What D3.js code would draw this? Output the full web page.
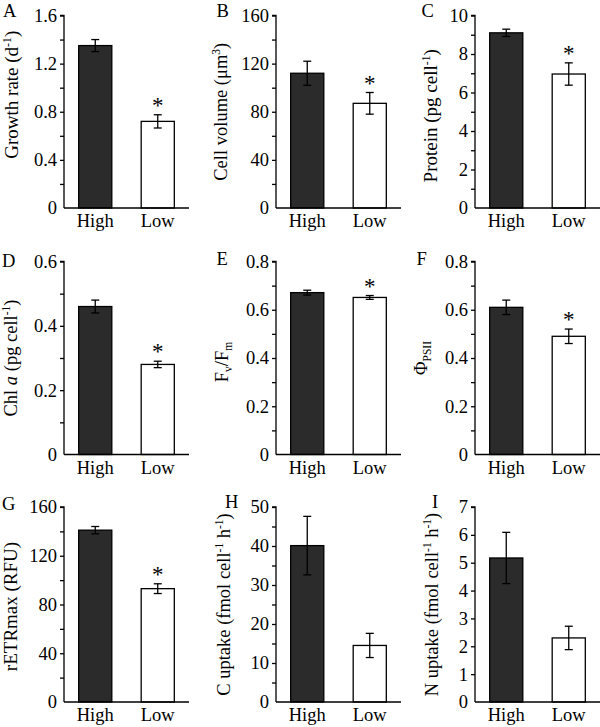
<!DOCTYPE html>
<html><head><meta charset="utf-8">
<script src="https://cdn.jsdelivr.net/npm/d3@7"></script>
<style>body{margin:0;background:#fff}svg{display:block}text{font-family:"Liberation Serif","Times New Roman",serif;fill:#000}</style>
</head><body><svg id="c" width="600" height="727"></svg>
<script>
const categories = ["High", "Low"];
const panelLetters = ["A","B","C","D","E","F","G","H","I"];
const growthRate = [1.35, 0.72], growthRateErr = [0.05, 0.055];
const cellVolume = [112, 87], cellVolumeErr = [10, 9];
const protein = [9.1, 6.96], proteinErr = [0.19, 0.58];
const chlA = [0.46, 0.28], chlAErr = [0.02, 0.01];
const fvfm = [0.671, 0.651], fvfmErr = [0.01, 0.008];
const phiPSII = [0.61, 0.49], phiPSIIErr = [0.03, 0.03];
const rETRmax = [141, 93], rETRmaxErr = [3, 4];
const cUptake = [40.1, 14.5], cUptakeErr = [7.5, 3.1];
const nUptake = [5.17, 2.3], nUptakeErr = [0.92, 0.42];
const significant = [true, true, true, true, true, true, true, false, false];
const tickA = ["0","0.4","0.8","1.2","1.6"];
const tickB = ["0","40","80","120","160"];
const tickC = ["0","2","4","6","8","10"];
const tickD = ["0","0.2","0.4","0.6"];
const tickE = ["0","0.2","0.4","0.6","0.8"];
const tickF = ["0","0.2","0.4","0.6","0.8"];
const tickG = ["0","40","80","120","160"];
const tickH = ["0","10","20","30","40","50"];
const tickI = ["0","1","2","3","4","5","6","7"];
const minorStep = [0.2, 20, 1, 0.1, 0.1, 0.1, 20, 5, null];
// y-axis labels as text segments
const yLabels = [
  [["Growth rate (d"],["-1","sup"],[")"]],
  [["Cell volume (\u03bcm"],["3","sup"],[")"]],
  [["Protein (pg cell"],["-1","sup"],[")"]],
  [["Chl "],["a","it"],[" (pg cell"],["-1","sup"],[")"]],
  [["F"],["v","sub"],["/F"],["m","sub"]],
  [["\u03a6"],["PSII","sub"]],
  [["rETRmax (RFU)"]],
  [["C uptake (fmol cell"],["-1","sup"],[" h"],["-1","sup"],[")"]],
  [["N uptake (fmol cell"],["-1","sup"],[" h"],["-1","sup"],[")"]]
];
const values = [growthRate, cellVolume, protein, chlA, fvfm, phiPSII, rETRmax, cUptake, nUptake];
const errors = [growthRateErr, cellVolumeErr, proteinErr, chlAErr, fvfmErr, phiPSIIErr, rETRmaxErr, cUptakeErr, nUptakeErr];
const ticks = [tickA, tickB, tickC, tickD, tickE, tickF, tickG, tickH, tickI];

// layout
const colX = [64, 276, 475];
const rowY = [[15.5, 208], [261.5, 454.5], [507, 702]];
const axisW = 125;
const labelX = [17.5, 31.5, 41.5, 17, 33, 32, 17, 35, 43];
const labelYOff = [-17, 0, 4, 0, 4, 0, 2, 0, 0];
const labelFS = [19, 18.5, 19, 18.5, 18.5, 18.5, 19, 18.5, 18.5];
const letterPos = [[3,17],[216.5,17],[421.5,17],[2,267],[216.5,265],[416.5,265],[2,510],[225,508],[432,508]];

const svg = d3.select("#c");
const FS = 18.5;

values.forEach((vals, i) => {
  const col = i % 3, row = Math.floor(i / 3);
  const x0 = colX[col], [yTop, yBot] = rowY[row];
  const tk = ticks[i];
  const maxV = +tk[tk.length - 1];
  const y = d3.scaleLinear().domain([0, maxV]).range([yBot, yTop]);
  const x = d3.scaleBand().domain(categories).range([x0, x0 + axisW]).paddingInner(0.47).paddingOuter(0.235);
  const g = svg.append("g");

  // bars
  g.selectAll("rect").data(vals).join("rect")
    .attr("x", (d, j) => x(categories[j]))
    .attr("width", x.bandwidth())
    .attr("y", d => y(d))
    .attr("height", d => yBot - y(d))
    .attr("fill", (d, j) => j === 0 ? "#2b2b2b" : "#fff")
    .attr("stroke", "#000").attr("stroke-width", 1.3);

  // error bars
  const errs = errors[i];
  vals.forEach((v, j) => {
    const cx = x(categories[j]) + x.bandwidth() / 2;
    const hi = y(v + errs[j]), lo = y(v - errs[j]);
    g.append("line").attr("x1", cx).attr("x2", cx).attr("y1", hi).attr("y2", lo).attr("stroke", "#000").attr("stroke-width", 1.3);
    [hi, lo].forEach(yy => g.append("line").attr("x1", cx - 4).attr("x2", cx + 4).attr("y1", yy).attr("y2", yy).attr("stroke", "#000").attr("stroke-width", 1.3));
    if (j === 1 && significant[i]) {
      g.append("text").attr("x", cx).attr("y", hi - 2).attr("text-anchor", "middle").attr("font-size", 23).text("*");
    }
  });

  // y axis
  const majors = tk.map(Number);
  const minors = [];
  if (minorStep[i]) { for (let v = minorStep[i]; v < maxV - 1e-9; v += minorStep[i] * 2) minors.push(+v.toFixed(6)); }
  const ax = d3.axisLeft(y).tickValues(majors.concat(minors)).tickSize(4).tickPadding(3)
    .tickFormat(v => { const k = majors.findIndex(m => Math.abs(m - v) < 1e-9); return k >= 0 ? tk[k] : ""; });
  const ag = g.append("g").attr("transform", `translate(${x0},0)`).call(ax);
  ag.select(".domain").attr("stroke", "#000").attr("stroke-width", 1.3).attr("d", `M-4,${yTop}H0V${yBot}`);
  ag.selectAll(".tick line").attr("stroke", "#000").attr("stroke-width", 1.3);
  ag.selectAll(".tick text").attr("font-size", FS).attr("fill", "#000");
  ag.selectAll(".tick").filter(v => v === 0).select("line").remove();

  // x axis
  g.append("line").attr("x1", x0).attr("x2", x0 + axisW).attr("y1", yBot).attr("y2", yBot).attr("stroke", "#000").attr("stroke-width", 1.3);
  categories.forEach(c => {
    g.append("text").attr("x", x(c) + x.bandwidth() / 2).attr("y", yBot + 19).attr("text-anchor", "middle").attr("font-size", FS).text(c);
  });

  // y label
  const lfs = labelFS[i];
  const lxAbs = [0, 195, 395][col] + labelX[i];
  const ly = (yTop + yBot) / 2 + labelYOff[i];
  const t = g.append("text").attr("transform", `translate(${lxAbs},${ly}) rotate(-90)`).attr("text-anchor", "middle").attr("font-size", lfs);
  let shift = 0;
  yLabels[i].forEach(([s, kind]) => {
    const ts = t.append("tspan").text(s);
    let target = 0;
    if (kind === "sup") { ts.attr("font-size", lfs * 0.62); target = -7; }
    else if (kind === "sub") { ts.attr("font-size", lfs * 0.62); target = 4; }
    else if (kind === "it") { ts.attr("font-style", "italic"); }
    if (target !== shift) { ts.attr("dy", target - shift); shift = target; }
  });

  // panel letter
  g.append("text").attr("x", letterPos[i][0]).attr("y", letterPos[i][1]).attr("font-size", FS).text(panelLetters[i]);
});
</script></body></html>
